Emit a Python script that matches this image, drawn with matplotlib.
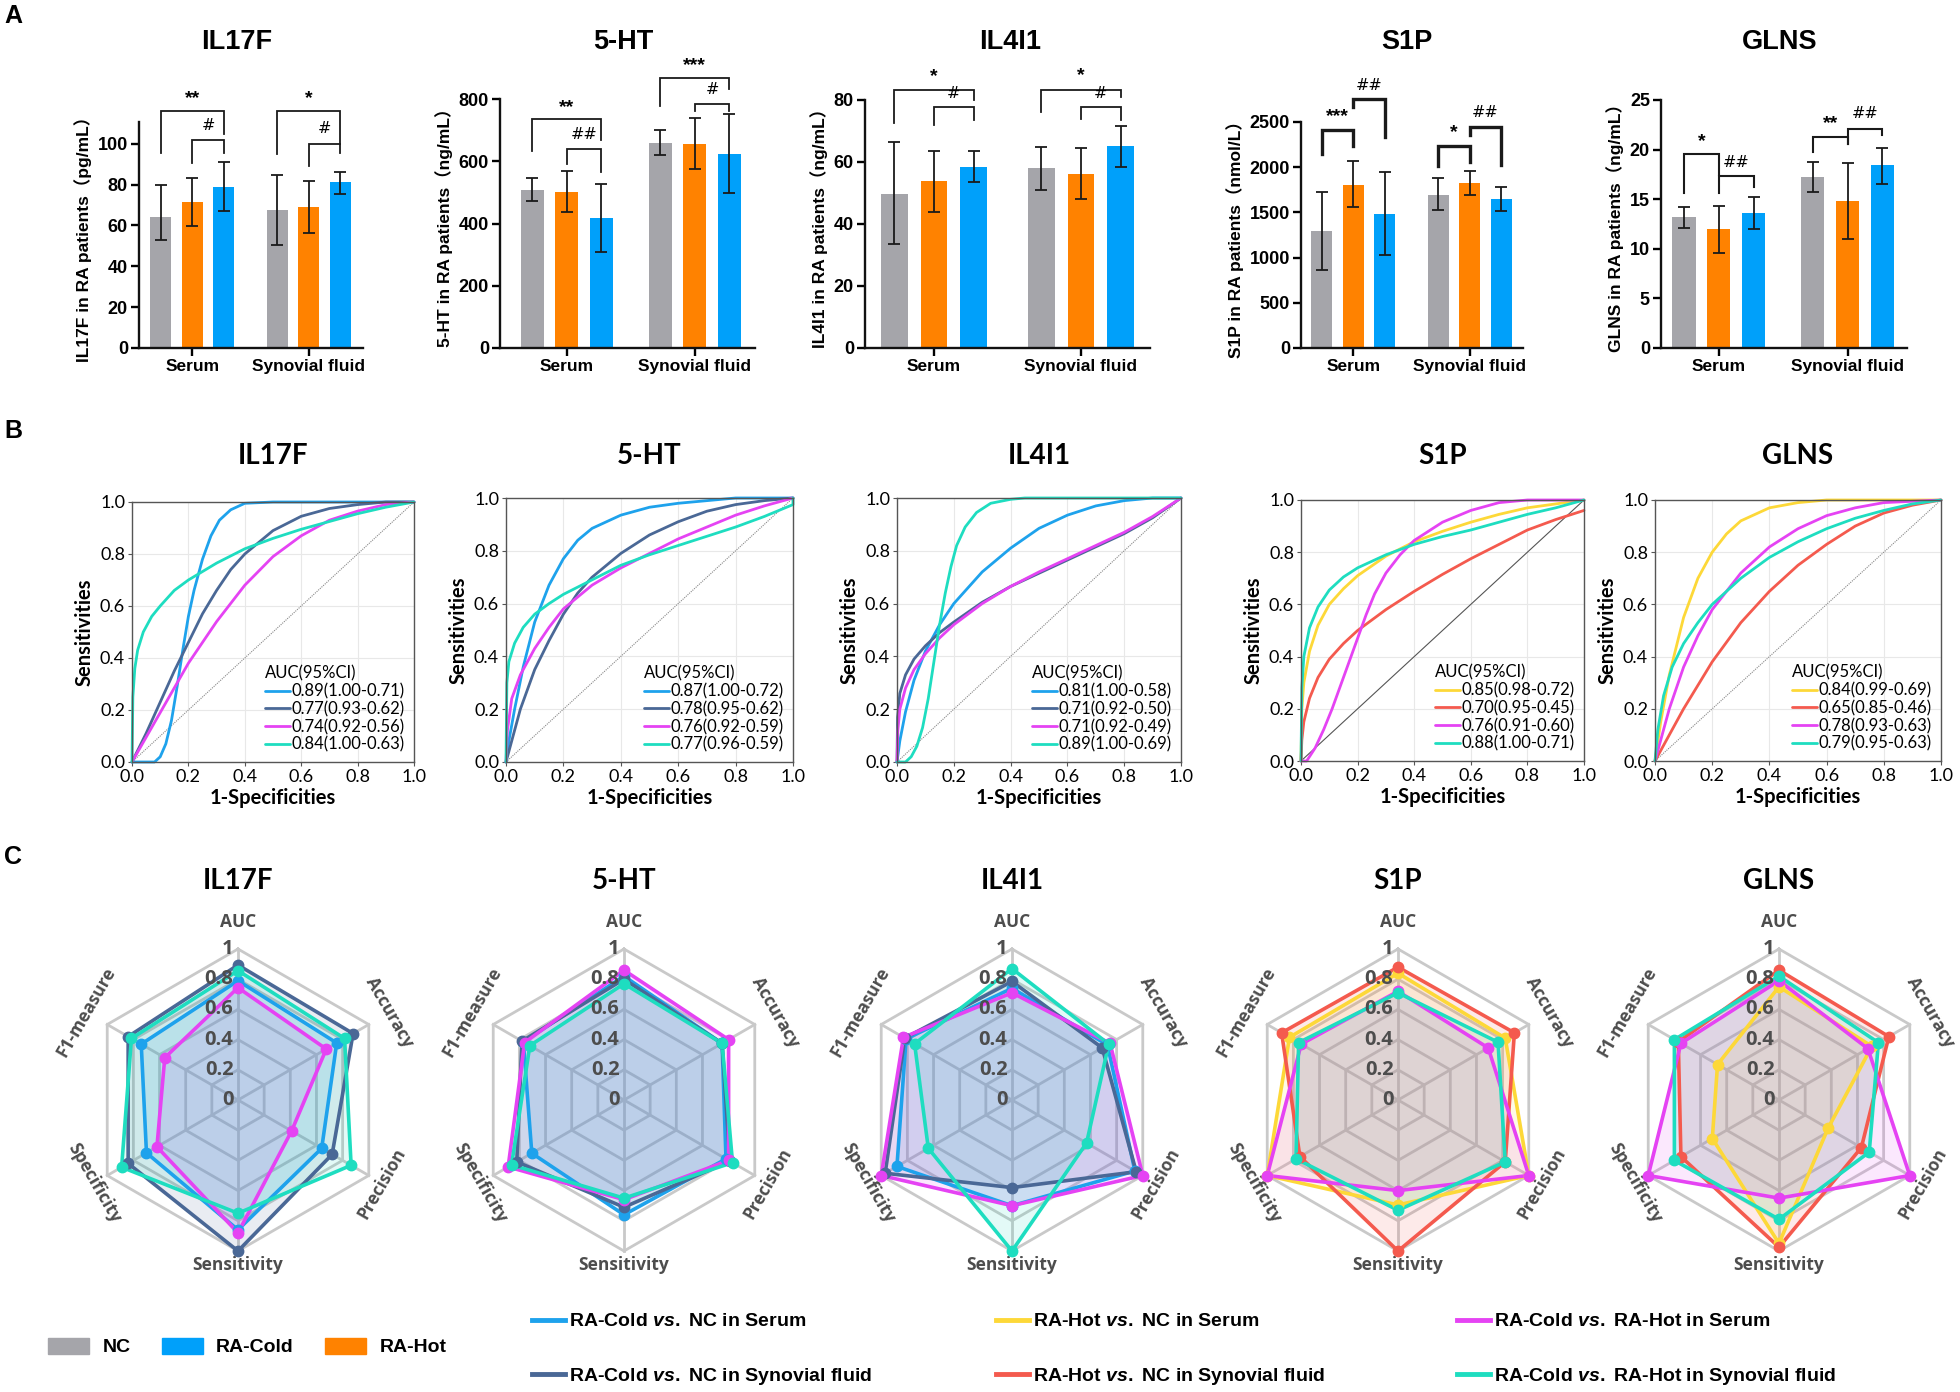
import numpy as np
import matplotlib
matplotlib.use("Agg")
import matplotlib.pyplot as plt
from matplotlib.patches import Patch
from matplotlib.lines import Line2D

plt.rcParams['font.family'] = ['Liberation Sans', 'Noto Sans CJK SC', 'DejaVu Sans']
plt.rcParams['mathtext.fontset'] = 'custom'
plt.rcParams['mathtext.it'] = 'Liberation Sans:italic:bold'
plt.rcParams['mathtext.rm'] = 'Liberation Sans:bold'

# ---------------- data ----------------
markers = ["IL17F", "5-HT", "IL4I1", "S1P", "GLNS"]
units = ["pg/mL", "ng/mL", "ng/mL", "nmol/L", "ng/mL"]
groups = ["Serum", "Synovial fluid"]
bar_names = ["NC", "RA-Hot", "RA-Cold"]          # drawing order inside a group
bar_colors = ["#A5A5AA", "#FF8200", "#00A0FA"]

# bar means / lower / upper ends of error bars (Serum NC,Hot,Cold, Synovial NC,Hot,Cold)
il17f_mean = [64, 71.5, 79, 67.5, 69, 81]
il17f_lo = [52.8, 59.7, 67.2, 50.2, 56.4, 75.4]
il17f_hi = [80, 83.3, 90.9, 84.9, 81.8, 86.2]
ht_mean = [507, 501, 418, 658, 656, 623]
ht_lo = [471, 436, 310, 619, 576, 498]
ht_hi = [546, 570, 528, 699, 740, 752]
il4i1_mean = [49.7, 53.8, 58.4, 58.1, 56.2, 65.2]
il4i1_lo = [33.5, 44, 53.5, 51, 48, 58.5]
il4i1_hi = [66.5, 63.5, 63.5, 65, 64.5, 71.5]
s1p_mean = [1298, 1807, 1482, 1693, 1825, 1648]
s1p_lo = [867, 1556, 1025, 1523, 1696, 1512]
s1p_hi = [1726, 2065, 1943, 1877, 1962, 1785]
glns_mean = [13.2, 11.95, 13.6, 17.2, 14.8, 18.4]
glns_lo = [12.1, 9.6, 12.0, 15.7, 11.0, 16.5]
glns_hi = [14.2, 14.3, 15.2, 18.8, 18.6, 20.2]

# significance brackets: (bar i, bar j, top, left leg end, right leg end, label, label y)
il17f_sig = [(0, 2, 116, 95.4, 104.9, "**", 122), (1, 2, 102, 90.7, 95.6, "#", 109),
             (3, 5, 116, 95, 100, "*", 122), (4, 5, 99.7, 89, 95.6, "#", 107.5)]
ht_sig = [(0, 2, 737, 632, 669, "**", 774), (1, 2, 640, 592, 564, "##", 685),
          (3, 5, 866, 778, 832, "***", 907), (4, 5, 784, 761, 761, "#", 832)]
il4i1_sig = [(0, 2, 83.2, 72.7, 80, "*", 87.5), (1, 2, 77.6, 72, 73.5, "#", 82),
             (3, 5, 83.2, 76, 81, "*", 88), (4, 5, 77.6, 74, 73.5, "#", 82)]
s1p_sig = [(0, 1, 2415, 2146, 2231, "***", 2555), (1, 2, 2754, 2666, 2330, "##", 2902),
           (3, 4, 2231, 2017, 2054, "*", 2378), (4, 5, 2441, 2360, 2021, "##", 2600)]
glns_sig = [(0, 1, 19.6, 15.6, 17.4, "*", 20.8), (1, 2, 17.35, 15.6, 16.2, "##", 18.7),
            (3, 4, 21.3, 19.8, 20.6, "**", 22.6), (4, 5, 22.1, 20.6, 21.5, "##", 23.6)]

# ROC curves (1-specificity, sensitivity)
il17f_roc_x = [[0, 0.08, 0.10, 0.12, 0.14, 0.16, 0.18, 0.20, 0.22, 0.25, 0.28, 0.31, 0.35, 0.40, 0.50, 1.0],
               [0, 0.05, 0.1, 0.15, 0.2, 0.25, 0.3, 0.35, 0.4, 0.5, 0.6, 0.7, 0.8, 0.9, 1.0],
               [0, 0.1, 0.2, 0.3, 0.4, 0.5, 0.6, 0.7, 0.8, 0.9, 1.0],
               [0, 0.003, 0.01, 0.02, 0.04, 0.07, 0.1, 0.15, 0.2, 0.3, 0.4, 0.5, 0.6, 0.7, 0.8, 0.9, 1.0]]
il17f_roc_y = [[0, 0, 0.02, 0.07, 0.16, 0.29, 0.43, 0.56, 0.66, 0.78, 0.87, 0.93, 0.97, 0.995, 1.0, 1.0],
               [0, 0.11, 0.23, 0.35, 0.46, 0.57, 0.66, 0.74, 0.80, 0.89, 0.945, 0.975, 0.99, 1.0, 1.0],
               [0, 0.19, 0.38, 0.54, 0.68, 0.79, 0.87, 0.93, 0.965, 0.99, 1.0],
               [0, 0.25, 0.36, 0.43, 0.50, 0.56, 0.60, 0.66, 0.70, 0.765, 0.82, 0.86, 0.895, 0.925, 0.955, 0.98, 1.0]]
ht_roc_x = [[0, 0.01, 0.03, 0.06, 0.1, 0.15, 0.2, 0.25, 0.3, 0.4, 0.5, 0.6, 0.7, 0.8, 1.0],
            [0, 0.05, 0.1, 0.15, 0.2, 0.25, 0.3, 0.4, 0.5, 0.6, 0.7, 0.8, 0.9, 1.0],
            [0, 0.005, 0.02, 0.05, 0.1, 0.15, 0.2, 0.3, 0.4, 0.5, 0.6, 0.7, 0.8, 0.9, 1.0],
            [0, 0.003, 0.01, 0.03, 0.06, 0.1, 0.15, 0.2, 0.3, 0.4, 0.5, 0.6, 0.7, 0.8, 0.9, 1.0, 1.0]]
ht_roc_y = [[0, 0.08, 0.2, 0.36, 0.53, 0.67, 0.77, 0.84, 0.885, 0.935, 0.965, 0.98, 0.99, 1.0, 1.0],
            [0, 0.2, 0.35, 0.46, 0.56, 0.64, 0.70, 0.79, 0.86, 0.91, 0.95, 0.975, 0.99, 1.0],
            [0, 0.12, 0.24, 0.33, 0.43, 0.51, 0.58, 0.67, 0.735, 0.79, 0.845, 0.89, 0.935, 0.97, 1.0],
            [0, 0.3, 0.38, 0.45, 0.51, 0.56, 0.60, 0.635, 0.69, 0.745, 0.785, 0.82, 0.855, 0.89, 0.93, 0.975, 1.0]]
il4i1_roc_x = [[0, 0.01, 0.03, 0.06, 0.1, 0.15, 0.2, 0.3, 0.4, 0.5, 0.6, 0.7, 0.8, 0.9, 1.0],
               [0, 0.002, 0.01, 0.03, 0.06, 0.1, 0.15, 0.2, 0.3, 0.4, 0.5, 0.6, 0.7, 0.8, 0.9, 1.0],
               [0, 0.003, 0.01, 0.03, 0.06, 0.1, 0.15, 0.2, 0.3, 0.4, 0.5, 0.6, 0.7, 0.8, 0.9, 1.0],
               [0, 0.03, 0.05, 0.07, 0.09, 0.11, 0.13, 0.15, 0.17, 0.19, 0.21, 0.24, 0.28, 0.33, 0.40, 0.45, 1.0]]
il4i1_roc_y = [[0, 0.08, 0.19, 0.31, 0.42, 0.52, 0.60, 0.72, 0.81, 0.885, 0.935, 0.97, 0.99, 1.0, 1.0],
               [0, 0.17, 0.26, 0.33, 0.39, 0.44, 0.49, 0.53, 0.605, 0.665, 0.715, 0.765, 0.815, 0.865, 0.925, 1.0],
               [0, 0.12, 0.2, 0.28, 0.35, 0.41, 0.47, 0.52, 0.6, 0.665, 0.72, 0.77, 0.82, 0.87, 0.93, 1.0],
               [0, 0.0, 0.02, 0.06, 0.13, 0.24, 0.38, 0.52, 0.64, 0.74, 0.82, 0.89, 0.945, 0.98, 0.995, 1.0, 1.0]]
s1p_roc_x = [[0, 0.003, 0.01, 0.03, 0.06, 0.1, 0.15, 0.2, 0.3, 0.4, 0.5, 0.6, 0.7, 0.8, 0.9, 1.0],
             [0, 0.003, 0.01, 0.03, 0.06, 0.1, 0.15, 0.2, 0.3, 0.4, 0.5, 0.6, 0.7, 0.8, 0.9, 1.0],
             [0, 0.02, 0.05, 0.08, 0.11, 0.14, 0.17, 0.2, 0.23, 0.26, 0.3, 0.35, 0.4, 0.5, 0.6, 0.7, 0.8, 1.0],
             [0, 0.003, 0.01, 0.03, 0.06, 0.1, 0.15, 0.2, 0.3, 0.4, 0.5, 0.6, 0.7, 0.8, 0.9, 1.0]]
s1p_roc_y = [[0, 0.2, 0.3, 0.42, 0.52, 0.6, 0.66, 0.71, 0.785, 0.84, 0.88, 0.915, 0.945, 0.97, 0.985, 1.0],
             [0, 0.08, 0.15, 0.24, 0.32, 0.39, 0.45, 0.50, 0.58, 0.65, 0.715, 0.775, 0.83, 0.885, 0.925, 0.96],
             [0, 0.0, 0.05, 0.12, 0.2, 0.29, 0.38, 0.47, 0.56, 0.64, 0.72, 0.79, 0.845, 0.915, 0.96, 0.99, 1.0, 1.0],
             [0, 0.28, 0.4, 0.51, 0.59, 0.655, 0.705, 0.74, 0.79, 0.83, 0.86, 0.885, 0.915, 0.945, 0.97, 1.0]]
glns_roc_x = [[0, 0.02, 0.05, 0.1, 0.15, 0.2, 0.25, 0.3, 0.4, 0.5, 0.6, 1.0],
              [0, 0.1, 0.2, 0.3, 0.4, 0.5, 0.6, 0.7, 0.8, 0.9, 1.0],
              [0, 0.05, 0.1, 0.15, 0.2, 0.3, 0.4, 0.5, 0.6, 0.7, 0.8, 1.0],
              [0, 0.01, 0.03, 0.06, 0.1, 0.15, 0.2, 0.3, 0.4, 0.5, 0.6, 0.7, 0.8, 0.9, 1.0]]
glns_roc_y = [[0, 0.15, 0.33, 0.55, 0.7, 0.8, 0.87, 0.92, 0.97, 0.99, 1.0, 1.0],
              [0, 0.2, 0.38, 0.53, 0.65, 0.75, 0.83, 0.9, 0.95, 0.98, 1.0],
              [0, 0.2, 0.36, 0.48, 0.58, 0.72, 0.82, 0.89, 0.94, 0.97, 0.99, 1.0],
              [0, 0.12, 0.25, 0.36, 0.45, 0.53, 0.6, 0.7, 0.78, 0.84, 0.89, 0.93, 0.96, 0.985, 1.0]]

il17f_auc = ["0.89(1.00-0.71)", "0.77(0.93-0.62)", "0.74(0.92-0.56)", "0.84(1.00-0.63)"]
ht_auc = ["0.87(1.00-0.72)", "0.78(0.95-0.62)", "0.76(0.92-0.59)", "0.77(0.96-0.59)"]
il4i1_auc = ["0.81(1.00-0.58)", "0.71(0.92-0.50)", "0.71(0.92-0.49)", "0.89(1.00-0.69)"]
s1p_auc = ["0.85(0.98-0.72)", "0.70(0.95-0.45)", "0.76(0.91-0.60)", "0.88(1.00-0.71)"]
glns_auc = ["0.84(0.99-0.69)", "0.65(0.85-0.46)", "0.78(0.93-0.63)", "0.79(0.95-0.63)"]

# radar values: AUC, Accuracy, Precision, Sensitivity, Specificity, F1-measure
metrics = ["AUC", "Accuracy", "Precision", "Sensitivity", "Specificity", "F1-measure"]
il17f_radar = [[0.79, 0.755, 0.64, 0.86, 0.70, 0.74], [0.894, 0.88, 0.72, 1.0, 0.84, 0.84],
               [0.744, 0.675, 0.41, 0.88, 0.62, 0.56], [0.857, 0.815, 0.865, 0.75, 0.89, 0.815]]
ht_radar = [[0.82, 0.75, 0.78, 0.76, 0.705, 0.77], [0.80, 0.75, 0.81, 0.71, 0.82, 0.78],
            [0.86, 0.80, 0.80, 0.66, 0.886, 0.76], [0.77, 0.75, 0.83, 0.65, 0.86, 0.72]]
il4i1_radar = [[0.74, 0.73, 0.94, 0.70, 0.88, 0.81], [0.785, 0.69, 0.95, 0.58, 0.97, 0.82],
               [0.71, 0.75, 1.0, 0.70, 1.0, 0.83], [0.87, 0.74, 0.57, 1.0, 0.64, 0.745]]
s1p_radar = [[0.84, 0.82, 1.0, 0.695, 1.0, 0.83], [0.88, 0.89, 0.82, 1.0, 0.75, 0.89],
             [0.72, 0.69, 1.0, 0.60, 1.0, 0.74], [0.71, 0.765, 0.82, 0.73, 0.78, 0.76]]
glns_radar = [[0.75, 0.71, 0.375, 0.95, 0.51, 0.47], [0.86, 0.84, 0.63, 0.975, 0.75, 0.77],
              [0.79, 0.68, 1.0, 0.65, 1.0, 0.75], [0.82, 0.76, 0.69, 0.79, 0.80, 0.80]]

cold_names = ["RA-Cold vs. NC in Serum", "RA-Cold vs. NC in Synovial fluid"]
hot_names = ["RA-Hot vs. NC in Serum", "RA-Hot vs. NC in Synovial fluid"]
cc_names = ["RA-Cold vs. RA-Hot in Serum", "RA-Cold vs. RA-Hot in Synovial fluid"]
c_lb, c_db, c_mg, c_tl, c_yl, c_rd = "#1EA2EC", "#4A6896", "#E543F3", "#1EDDC0", "#FDD838", "#F45A4E"
cold_cols = [c_lb, c_db, c_mg, c_tl]
hot_cols = [c_yl, c_rd, c_mg, c_tl]

# ---------------- layout ----------------
W, H = 1960, 1392
fig = plt.figure(figsize=(W / 100, H / 100), dpi=100)


def box(l, t, r, b):
    return [l / W, 1 - b / H, (r - l) / W, (b - t) / H]


ARIAL = ['Liberation Sans', 'Noto Sans CJK SC']
CAL = ['Lato', 'Liberation Sans']
RND = ['Open Sans', 'Noto Sans']

for lab, y in [("A", 16), ("B", 431), ("C", 857)]:
    fig.text(13 / W, 1 - y / H, lab, fontsize=18, fontweight='bold', ha='center', va='center', family=ARIAL)

# ---- Row A: bars ----
bar_sets = [(il17f_mean, il17f_lo, il17f_hi, il17f_sig), (ht_mean, ht_lo, ht_hi, ht_sig),
            (il4i1_mean, il4i1_lo, il4i1_hi, il4i1_sig), (s1p_mean, s1p_lo, s1p_hi, s1p_sig),
            (glns_mean, glns_lo, glns_hi, glns_sig)]
bar_rects = [(139, 122, 363, 348), (500, 99, 755, 348), (865, 100, 1150, 348),
             (1301, 122, 1523, 348), (1661, 100, 1907, 348)]
bar_xlim = [(-0.457, 1.466), (-0.52, 1.47), (-0.47, 1.47), (-0.45, 1.457), (-0.448, 1.461)]
bar_ylim = [(110.6, 20), (800, 200), (80, 20), (2500, 500), (25, 5)]
bar_title_x = [237, 623, 1010, 1407, 1780]
br_lw = [1.3, 1.3, 1.3, 2.4, 1.5]

for k, (mean, lo, hi, sig) in enumerate(bar_sets):
    ax = fig.add_axes(box(*bar_rects[k]))
    ax.patch.set_visible(False)
    x = np.array([g + o for g in range(2) for o in (-0.27, 0.0, 0.27)])
    m = np.array(mean)
    err = [m - np.array(lo), np.array(hi) - m]
    ax.bar(x, m, width=0.18, color=bar_colors * 2, zorder=2)
    ax.errorbar(x, m, yerr=err, fmt='none', ecolor='#1a1a1a', elinewidth=1.3,
                capsize=4.5, capthick=1.3, zorder=3)
    for i, j, top, ll, lr, lab, ty in sig:
        ax.plot([x[i], x[i], x[j], x[j]], [ll, top, top, lr], color='#1a1a1a',
                lw=br_lw[k], clip_on=False, solid_joinstyle='miter')
        if '*' in lab:
            ax.text((x[i] + x[j]) / 2, ty, lab, ha='center', va='center', fontsize=14,
                    fontweight='bold', family=ARIAL)
        else:
            ax.text((x[i] + x[j]) / 2, ty, lab, ha='center', va='center', fontsize=11.5,
                    family=['DejaVu Sans'])
    ax.set_xlim(*bar_xlim[k])
    ymax, step = bar_ylim[k]
    ax.set_ylim(0, ymax)
    ax.set_yticks(np.arange(0, ymax + 0.01, step))
    ax.set_xticks([0, 1])
    ax.set_xticklabels(groups)
    for s in ['top', 'right']:
        ax.spines[s].set_visible(False)
    for s in ['left', 'bottom']:
        ax.spines[s].set_linewidth(1.7)
        ax.spines[s].set_color('#111111')
    ax.tick_params(width=1.7, length=6, pad=2)
    ax.tick_params(axis='y', labelsize=13)
    ax.tick_params(axis='x', labelsize=12.5)
    for t in ax.get_xticklabels() + ax.get_yticklabels():
        t.set_fontweight('bold')
        t.set_family(ARIAL)
    ax.set_ylabel(f"{markers[k]} in RA patients（{units[k]}）", fontsize=12.5,
                  fontweight='bold', family=ARIAL, labelpad=4)
    fig.text(bar_title_x[k] / W, 1 - 42 / H, markers[k], fontsize=19.5, fontweight='bold',
             ha='center', va='center', family=ARIAL)

# ---- Row B: ROC ----
roc_sets = [(il17f_roc_x, il17f_roc_y, il17f_auc, cold_cols), (ht_roc_x, ht_roc_y, ht_auc, cold_cols),
            (il4i1_roc_x, il4i1_roc_y, il4i1_auc, cold_cols), (s1p_roc_x, s1p_roc_y, s1p_auc, hot_cols),
            (glns_roc_x, glns_roc_y, glns_auc, hot_cols)]
roc_rects = [(132, 502, 414, 762), (506, 498, 793, 762), (897, 498, 1181, 762),
             (1301, 500, 1584, 761), (1655, 500, 1941, 761)]

for k, (rx, ry, auc, cols) in enumerate(roc_sets):
    ax = fig.add_axes(box(*roc_rects[k]))
    ax.set_xlim(0, 1)
    ax.set_ylim(0, 1)
    ax.set_xticks(np.arange(0, 1.01, 0.2))
    ax.set_yticks(np.arange(0, 1.01, 0.2))
    ax.grid(True, color='#E8E8E8', lw=0.8)
    ax.set_axisbelow(True)
    if k == 3:
        ax.plot([0, 1], [0, 1], color='#555555', lw=0.8)
    else:
        ax.plot([0, 1], [0, 1], color='#888888', lw=0.8, ls=(0, (1, 1)))
    for xs, ys, c, lab in zip(rx, ry, cols, auc):
        ax.plot(xs, ys, color=c, lw=2.0, label=lab, clip_on=False, solid_capstyle='round')
    for s in ax.spines.values():
        s.set_color('#555555')
        s.set_linewidth(1.0)
    ax.tick_params(labelsize=13, length=3, color='#555555', pad=2)
    for t in ax.get_xticklabels() + ax.get_yticklabels():
        t.set_family(CAL)
    ax.set_xticklabels(["0.0", "0.2", "0.4", "0.6", "0.8", "1.0"])
    ax.set_yticklabels(["0.0", "0.2", "0.4", "0.6", "0.8", "1.0"])
    ax.set_xlabel("1-Specificities", fontsize=14.5, fontweight='bold', family=CAL, labelpad=2)
    ax.set_ylabel("Sensitivities", fontsize=14.5, fontweight='bold', family=CAL, labelpad=4)
    leg = ax.legend(loc='lower right', frameon=False, title="AUC(95%CI)",
                    prop={'family': CAL, 'size': 12}, handlelength=1.5, handletextpad=0.1,
                    labelspacing=0.1, borderaxespad=0.15, alignment='left')
    leg.get_title().set_family(CAL)
    leg.get_title().set_fontsize(12)
    cx = (roc_rects[k][0] + roc_rects[k][2]) / 2
    fig.text(cx / W, 1 - 456 / H, markers[k], fontsize=20, fontweight='bold',
             ha='center', va='center', family=CAL)

# ---- Row C: radar ----
radar_sets = [(il17f_radar, cold_cols), (ht_radar, cold_cols), (il4i1_radar, cold_cols),
              (s1p_radar, hot_cols), (glns_radar, hot_cols)]
radar_cx = [238, 624, 1012, 1398, 1779]
cy, R = 1100, 151
ang = np.deg2rad(np.arange(6) * 60.0)
lab_r = [1.18, 1.16, 1.10, 1.09, 1.10, 1.16]
lab_rot = [0, -60, 60, 0, -60, 60]

for k, (vals, cols) in enumerate(radar_sets):
    cx = radar_cx[k]
    ax = fig.add_axes(box(cx - 210, cy - 210, cx + 210, cy + 210))
    ax.patch.set_visible(False)
    lim = 210 / R
    ax.set_xlim(-lim, lim)
    ax.set_ylim(-lim, lim)
    ax.set_aspect('equal')
    ax.axis('off')
    angc = np.append(ang, ang[0])
    for r in [0.2, 0.4, 0.6, 0.8, 1.0]:
        ax.plot(r * np.sin(angc), r * np.cos(angc), color='#C9C9C9', lw=2.0, zorder=1)
    for a in ang:
        ax.plot([0, np.sin(a)], [0, np.cos(a)], color='#C9C9C9', lw=2.0, zorder=1)
    for v, c in zip(vals, cols):
        vv = np.append(v, v[0])
        xs, ys = vv * np.sin(angc), vv * np.cos(angc)
        ax.fill(xs, ys, color=c, alpha=0.12, lw=0, zorder=2)
    for v, c in zip(vals, cols):
        vv = np.append(v, v[0])
        xs, ys = vv * np.sin(angc), vv * np.cos(angc)
        ax.plot(xs, ys, color=c, lw=2.6, zorder=3)
        ax.plot(xs[:-1], ys[:-1], 'o', color=c, ms=7.5, zorder=4)
    for r, t in zip([0, 0.2, 0.4, 0.6, 0.8, 1.0], ["0", "0.2", "0.4", "0.6", "0.8", "1"]):
        ax.text(-0.03, r, t, ha='right', va='center', fontsize=14.5, fontweight='bold',
                color='#4d4d4d', family=RND, zorder=5)
    for a, name, rr, rot in zip(ang, metrics, lab_r, lab_rot):
        ax.text(rr * np.sin(a), rr * np.cos(a), name, ha='center', va='center', rotation=rot,
                rotation_mode='anchor', fontsize=12.5, fontweight='bold', color='#4d4d4d',
                family=RND)
    fig.text(cx / W, 1 - 881 / H, markers[k], fontsize=20, fontweight='bold',
             ha='center', va='center', family=CAL)

# ---- bottom legends ----
pfont = {'family': ARIAL, 'weight': 'bold', 'size': 14}
phandles = [Patch(color=bar_colors[0], label="NC"), Patch(color=bar_colors[2], label="RA-Cold"),
            Patch(color=bar_colors[1], label="RA-Hot")]
fig.legend(handles=phandles, loc='center left', bbox_to_anchor=(48 / W, 1 - 1347 / H), ncol=3,
           frameon=False, handlelength=2.1, handleheight=0.9, handletextpad=0.7,
           columnspacing=1.6, prop=pfont, borderpad=0, borderaxespad=0)


def vs(s):
    return s.replace(" vs. ", r" $\it{vs.}$ ")


for names, cols, x0 in [(cold_names, [c_lb, c_db], 532), (hot_names, [c_yl, c_rd], 996),
                        (cc_names, [c_mg, c_tl], 1457)]:
    hs = [Line2D([], [], color=c, lw=3.5, label=vs(n)) for n, c in zip(names, cols)]
    fig.legend(handles=hs, loc='center left', bbox_to_anchor=(x0 / W, 1 - 1350 / H),
               frameon=False, handlelength=1.7, handletextpad=0.2, labelspacing=1.85,
               prop=pfont, borderpad=0, borderaxespad=0)

fig.savefig("out.png", dpi=100)
